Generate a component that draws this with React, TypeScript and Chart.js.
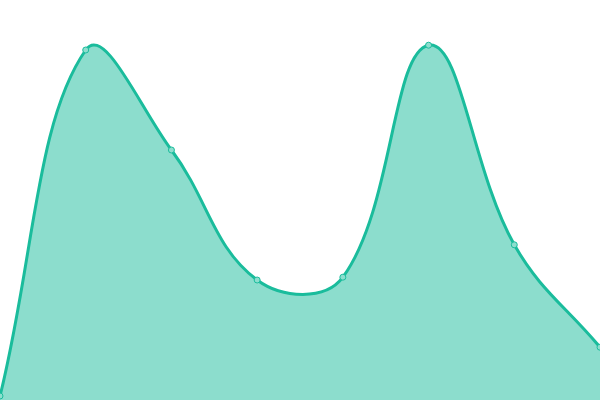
import React, { useEffect, useRef } from "react";
import { Chart, registerables } from "chart.js";

Chart.register(...registerables);

const labels = ["A", "B", "C", "D", "E", "F", "G", "H"];
const values = [1, 87.5, 62.5, 30, 30.7, 88.7, 38.8, 13.2];
const yMin = 0;
const yMax = 100;

export default function App() {
  const ref = useRef<HTMLCanvasElement | null>(null);
  useEffect(() => {
    if (!ref.current) return;
    const chart = new Chart(ref.current, {
      type: "line",
      data: {
        labels,
        datasets: [
          {
            data: values,
            fill: "origin",
            backgroundColor: "rgba(26, 188, 156, 0.5)",
            borderColor: "#1abc9c",
            borderWidth: 3,
            tension: 0.4,
            pointRadius: 3,
            pointBorderWidth: 1,
            pointBackgroundColor: "rgb(141, 222, 206)",
            pointBorderColor: "#1abc9c",
          },
        ],
      },
      options: {
        animation: false,
        responsive: false,
        maintainAspectRatio: false,
        layout: { padding: 0, autoPadding: false },
        plugins: { legend: { display: false }, tooltip: { enabled: false } },
        scales: {
          x: { display: false },
          y: { display: false, min: yMin, max: yMax },
        },
      },
    });
    return () => chart.destroy();
  }, []);
  return (
    <div style={{ position: "fixed", left: 0, top: 0, width: 600, height: 400, background: "#fff" }}>
      <canvas ref={ref} width={600} height={400} style={{ display: "block", width: 600, height: 400 }} />
    </div>
  );
}
